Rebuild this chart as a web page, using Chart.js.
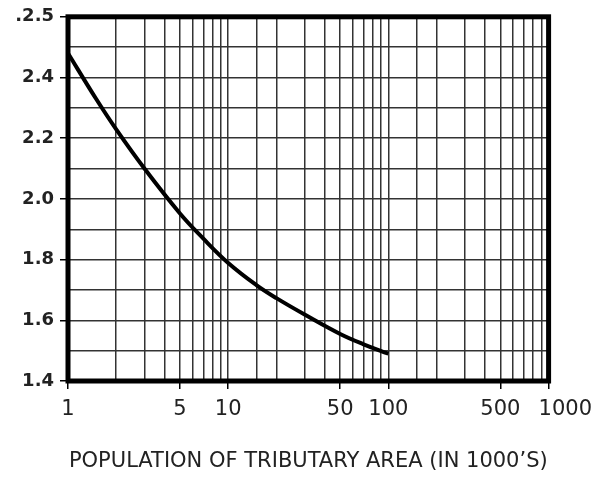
<!DOCTYPE html>
<html>
<head>
<meta charset="utf-8">
<script src="https://cdn.jsdelivr.net/npm/chart.js@4"></script>
<style>
  html, body { margin: 0; padding: 0; background: #fff; }
  #wrap { width: 600px; height: 478px; }
</style>
</head>
<body>
<div id="wrap"><canvas id="curve-chart" width="600" height="478"></canvas></div>
<script>
// population (thousands) vs. factor
var population = [1, 1.5, 2, 3, 5, 7, 10, 15, 20, 30, 50, 70, 100];
var factor = [2.48, 2.329, 2.229, 2.1, 1.952, 1.869, 1.789, 1.716, 1.673, 1.619, 1.555, 1.521, 1.49];

var xTickValues = [1, 5, 10, 50, 100, 500, 1000];
var xTickText = ['1', '5', '10', '50', '100', '500', '     1000'];
var yTickValues = [1.4, 1.6, 1.8, 2.0, 2.2, 2.4, 2.6];
var yTickText = ['1.4', '1.6', '1.8', '2.0', '2.2', '2.4', '.2.5'];

function xLabelOf(v) {
	for (var i = 0; i < xTickValues.length; i++) {
		if (Math.abs(v - xTickValues[i]) < 1e-6) return xTickText[i];
	}
	return '';
}
function yLabelOf(v) {
	for (var i = 0; i < yTickValues.length; i++) {
		if (Math.abs(v - yTickValues[i]) < 1e-6) return yTickText[i];
	}
	return '';
}

var frame = {
	id: 'frame',
	afterDraw: function(chart) {
		var a = chart.chartArea, ctx = chart.ctx;
		ctx.save();
		ctx.strokeStyle = '#000';
		ctx.lineWidth = 5;
		ctx.strokeRect(a.left, a.top, a.right - a.left, a.bottom - a.top);
		ctx.restore();
	}
};

new Chart(document.getElementById('curve-chart'), {
	type: 'line',
	data: {
		datasets: [{
			data: population.map(function(p, i) { return { x: p, y: factor[i] }; }),
			borderColor: '#000',
			borderWidth: 4,
			pointRadius: 0,
			tension: 0.4,
			fill: false
		}]
	},
	options: {
		responsive: false,
		animation: false,
		layout: { padding: { top: 14, right: 48, left: 0, bottom: 0 } },
		plugins: { legend: { display: false }, tooltip: { enabled: false } },
		scales: {
			x: {
				type: 'logarithmic',
				min: 1,
				max: 1000,
				afterFit: function(s) { s.height = 97; },
				border: { display: false },
				grid: {
					color: '#333',
					lineWidth: 1.5,
					tickLength: 8,
					tickColor: function(c) { return xLabelOf(c.tick.value) ? '#000' : 'rgba(0,0,0,0)'; }
				},
				ticks: {
					autoSkip: false,
					maxRotation: 0,
					padding: 8,
					color: '#222',
					font: { family: 'DejaVu Sans', size: 21 },
					callback: function(v) { return xLabelOf(v); }
				},
				title: {
					display: true,
					text: 'POPULATION OF TRIBUTARY AREA (IN 1000\u2019S)',
					color: '#222',
					font: { family: 'DejaVu Sans', size: 21 },
					padding: { top: 0, bottom: 4 }
				}
			},
			y: {
				min: 1.4,
				max: 2.6,
				afterFit: function(s) { s.width = 68; },
				border: { display: false },
				grid: {
					color: '#333',
					lineWidth: 1.5,
					tickLength: 8,
					tickColor: function(c) { return yLabelOf(c.tick.value) ? '#000' : 'rgba(0,0,0,0)'; }
				},
				ticks: {
					stepSize: 0.1,
					autoSkip: false,
					padding: 6,
					color: '#222',
					font: { family: 'DejaVu Sans', size: 18, weight: 'bold' },
					callback: function(v) { return yLabelOf(v); }
				}
			}
		}
	},
	plugins: [frame]
});
</script>
</body>
</html>
